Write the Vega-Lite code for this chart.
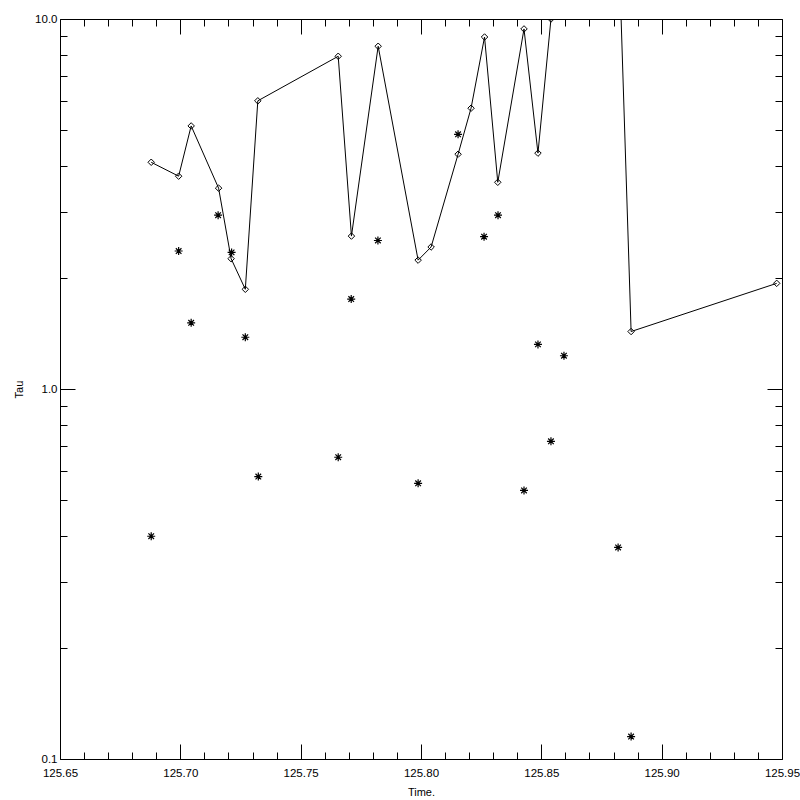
{
  "$schema": "https://vega.github.io/schema/vega-lite/v6.json",
  "width": 722,
  "height": 740,
  "autosize": "none",
  "padding": {"left": 60, "top": 19, "right": 18, "bottom": 41},
  "background": "white",
  "config": {
    "view": {"stroke": null},
    "font": "Liberation Sans",
    "axis": {
      "grid": false,
      "domainColor": "black",
      "domainWidth": 1,
      "tickColor": "black",
      "tickWidth": 1,
      "labelColor": "black",
      "labelFont": "Liberation Sans",
      "labelFontSize": 11.5,
      "titleFont": "Liberation Sans",
      "titleFontSize": 11,
      "titleFontWeight": "normal",
      "titleColor": "black",
      "offset": 0
    }
  },
  "datasets": {
    "tauline": [
      {"t": 125.6879, "tau": 4.10},
      {"t": 125.6993, "tau": 3.76},
      {"t": 125.7045, "tau": 5.14},
      {"t": 125.7159, "tau": 3.49},
      {"t": 125.7211, "tau": 2.25},
      {"t": 125.7270, "tau": 1.86},
      {"t": 125.7322, "tau": 6.01},
      {"t": 125.7656, "tau": 7.93},
      {"t": 125.7711, "tau": 2.59},
      {"t": 125.7822, "tau": 8.44},
      {"t": 125.7988, "tau": 2.23},
      {"t": 125.8042, "tau": 2.42},
      {"t": 125.8154, "tau": 4.31},
      {"t": 125.8208, "tau": 5.74},
      {"t": 125.8264, "tau": 8.94},
      {"t": 125.8319, "tau": 3.62},
      {"t": 125.8428, "tau": 9.40},
      {"t": 125.8486, "tau": 4.34},
      {"t": 125.8540, "tau": 10.0},
      {"t": 125.8594, "tau": 20.0},
      {"t": 125.8819, "tau": 18.0},
      {"t": 125.8873, "tau": 1.43},
      {"t": 125.9478, "tau": 1.93}
    ],
    "stars": [
      {"t": 125.6879, "tau": 0.40},
      {"t": 125.6993, "tau": 2.36},
      {"t": 125.7045, "tau": 1.51},
      {"t": 125.7157, "tau": 2.95},
      {"t": 125.7213, "tau": 2.34},
      {"t": 125.7270, "tau": 1.38},
      {"t": 125.7324, "tau": 0.58},
      {"t": 125.7656, "tau": 0.654},
      {"t": 125.7710, "tau": 1.75},
      {"t": 125.7821, "tau": 2.52},
      {"t": 125.7988, "tau": 0.556},
      {"t": 125.8154, "tau": 4.88},
      {"t": 125.8262, "tau": 2.58},
      {"t": 125.8320, "tau": 2.95},
      {"t": 125.8428, "tau": 0.532},
      {"t": 125.8486, "tau": 1.32},
      {"t": 125.8540, "tau": 0.722},
      {"t": 125.8594, "tau": 1.23},
      {"t": 125.8819, "tau": 0.373},
      {"t": 125.8873, "tau": 0.115}
    ]
  },
  "resolve": {"axis": {"x": "independent", "y": "independent"}},
  "layer": [
    {
      "data": {"name": "tauline"},
      "mark": {"type": "line", "color": "black", "strokeWidth": 1, "clip": true},
      "encoding": {
        "x": {"field": "t", "type": "quantitative",
          "scale": {"domain": [125.65, 125.95], "nice": false, "zero": false},
          "axis": {"orient": "bottom", "values": [125.65, 125.70, 125.75, 125.80, 125.85, 125.90, 125.95],
            "format": ".2f", "tickSize": -15, "labelPadding": 23, "labelFlush": false, "labelOverlap": false,
            "title": "Time.", "titlePadding": 8}},
        "y": {"field": "tau", "type": "quantitative",
          "scale": {"type": "log", "domain": [0.1, 10], "nice": false},
          "axis": {"orient": "left", "values": [0.1, 1, 10], "format": ".1f", "tickSize": -15,
            "labelPadding": 18, "labelFlush": false, "labelOverlap": false, "title": "Tau", "titlePadding": 10}}
      }
    },
    {
      "data": {"name": "tauline"},
      "mark": {"type": "point", "shape": "diamond", "filled": false, "color": "black", "strokeWidth": 1, "size": 42, "opacity": 1, "clip": true},
      "encoding": {
        "x": {"field": "t", "type": "quantitative",
          "axis": {"orient": "bottom", "values": [125.66, 125.67, 125.68, 125.69, 125.71, 125.72, 125.73, 125.74, 125.76, 125.77, 125.78, 125.79, 125.81, 125.82, 125.83, 125.84, 125.86, 125.87, 125.88, 125.89, 125.91, 125.92, 125.93, 125.94],
            "tickSize": -7, "labels": false, "domain": false, "title": null}},
        "y": {"field": "tau", "type": "quantitative",
          "axis": {"orient": "left", "values": [0.2, 0.3, 0.4, 0.5, 0.6, 0.7, 0.8, 0.9, 2, 3, 4, 5, 6, 7, 8, 9],
            "tickSize": -7, "labels": false, "domain": false, "title": null}}
      }
    },
    {
      "data": {"name": "stars"},
      "mark": {"type": "point", "shape": "M-1,0L1,0M0,-1L0,1M-0.7,-0.7L0.7,0.7M-0.7,0.7L0.7,-0.7", "filled": false, "color": "black", "strokeWidth": 1.2, "size": 64, "opacity": 1, "clip": true},
      "encoding": {
        "x": {"field": "t", "type": "quantitative",
          "axis": {"orient": "top", "values": [125.65, 125.70, 125.75, 125.80, 125.85, 125.90, 125.95],
            "tickSize": -15, "labels": false, "title": null}},
        "y": {"field": "tau", "type": "quantitative",
          "axis": {"orient": "right", "values": [0.1, 1, 10],
            "tickSize": -15, "labels": false, "title": null}}
      }
    },
    {
      "data": {"name": "stars"},
      "mark": {"type": "point", "opacity": 0, "size": 1},
      "encoding": {
        "x": {"field": "t", "type": "quantitative",
          "axis": {"orient": "top", "values": [125.66, 125.67, 125.68, 125.69, 125.71, 125.72, 125.73, 125.74, 125.76, 125.77, 125.78, 125.79, 125.81, 125.82, 125.83, 125.84, 125.86, 125.87, 125.88, 125.89, 125.91, 125.92, 125.93, 125.94],
            "tickSize": -7, "labels": false, "domain": false, "title": null}},
        "y": {"field": "tau", "type": "quantitative",
          "axis": {"orient": "right", "values": [0.2, 0.3, 0.4, 0.5, 0.6, 0.7, 0.8, 0.9, 2, 3, 4, 5, 6, 7, 8, 9],
            "tickSize": -7, "labels": false, "domain": false, "title": null}}
      }
    }
  ]
}
